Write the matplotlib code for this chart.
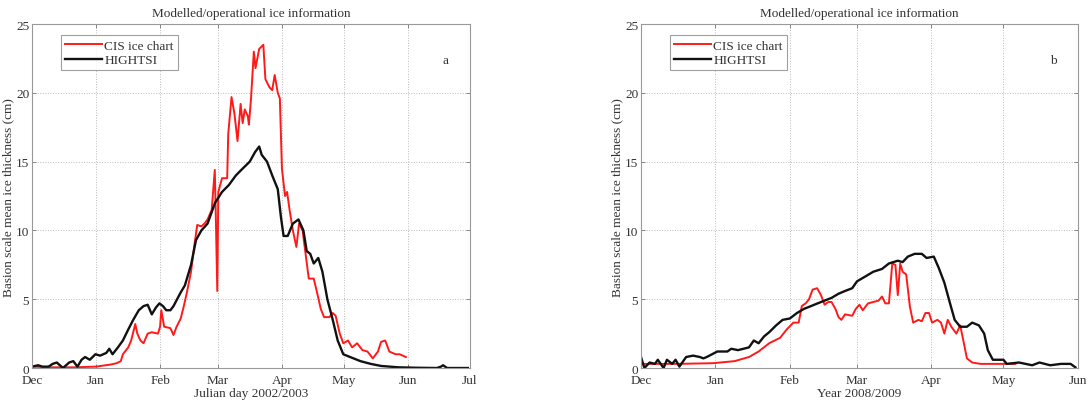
import matplotlib.pyplot as plt

plt.rcParams['font.family'] = ['Liberation Serif', 'DejaVu Serif']

# days counted from 1 December
cis_a_day = [0, 10, 20, 31, 38, 41, 43, 44, 46.6, 48, 50, 51, 52.5, 54, 56, 58, 61, 62, 62.6, 64,
             67, 68.5, 70, 72, 73.5, 75, 77, 78.5, 80, 82, 83.5, 85, 87, 88.5, 89, 89.7, 90.2, 92,
             94.5, 95, 96.6, 98, 99.5, 101, 102, 103, 104.5, 105, 106, 107.4, 108.2, 110, 112, 113,
             115, 116.3, 117.5, 119, 120, 121, 122.5, 123.5, 124.7, 126.3, 128, 129.3, 131, 132.2,
             134, 136.4, 138, 139.8, 141.4, 144, 145.6, 147, 149, 150.7, 153, 155, 157.4, 160, 162.4,
             165, 167.5, 169, 171, 173, 176, 178, 181]
cis_a_val = [0.1, 0.05, 0.05, 0.1, 0.25, 0.35, 0.5, 1.0, 1.5, 2.0, 3.2, 2.5, 2.0, 1.8, 2.5, 2.6, 2.5,
             3.0, 4.2, 3.0, 2.9, 2.4, 3.0, 3.6, 4.5, 5.5, 7.0, 8.8, 10.4, 10.3, 10.5, 10.8, 11.5, 14.4,
             11.0, 5.6, 12.8, 13.8, 13.8, 17.0, 19.7, 18.5, 16.5, 19.2, 17.8, 18.8, 18.3, 17.7, 19.5,
             23.0, 21.8, 23.2, 23.5, 21.0, 20.4, 20.2, 21.3, 20.0, 19.6, 14.5, 12.5, 12.8, 11.5, 10.0,
             8.8, 10.5, 10.0, 8.6, 6.5, 6.5, 5.5, 4.3, 3.7, 3.7, 4.0, 3.8, 2.5, 1.8, 2.0, 1.5, 1.8,
             1.3, 1.2, 0.7, 1.2, 1.9, 2.0, 1.2, 1.0, 1.0, 0.8]

hig_a_day = [0, 3, 5, 8, 10, 12, 15, 18, 20, 22, 24, 25.7, 28, 30.7, 33, 36, 37.4, 39, 41.6, 44,
             46.6, 49, 51.7, 54, 56, 58, 60, 61.7, 63.4, 65, 67, 68.5, 72, 74, 77, 79.4, 82, 85,
             88.6, 92, 95.3, 98.7, 102, 105.4, 108, 110, 111.2, 113.8, 116.3, 119, 120.5, 121.8,
             123.8, 126.3, 129, 131.4, 133, 134.7, 136.4, 138.6, 140.6, 143, 145.6, 148, 150.7, 154,
             159, 164, 169, 177.5, 186, 196, 198, 199, 201, 211]
hig_a_val = [0.1, 0.2, 0.1, 0.1, 0.3, 0.4, 0.0, 0.4, 0.5, 0.1, 0.6, 0.8, 0.6, 1.0, 0.9, 1.1, 1.4,
             1.0, 1.5, 2.0, 2.8, 3.5, 4.2, 4.5, 4.6, 3.9, 4.4, 4.7, 4.5, 4.2, 4.2, 4.5, 5.5, 6.0,
             7.5, 9.3, 10.0, 10.5, 12.0, 12.8, 13.3, 14.0, 14.5, 15.0, 15.7, 16.1, 15.5, 15.0, 14.0,
             13.0, 11.0, 9.6, 9.6, 10.5, 10.8, 10.0, 8.5, 8.3, 7.6, 8.0, 7.0, 5.0, 3.5, 2.0, 1.0,
             0.8, 0.5, 0.3, 0.15, 0.05, 0.02, 0.0, 0.1, 0.2, 0.0, 0.0]

cis_b_day = [0, 15, 30, 39, 45, 49, 53.4, 58, 60.7, 63.5, 65.7, 67, 68.6, 70, 71.5, 73.4, 75, 76.5,
             78, 79.4, 81, 82.3, 83.5, 85, 88, 89.5, 91, 92.4, 94.6, 96.8, 99, 100.4, 101.8, 103.3,
             104.7, 106, 107, 108, 109, 110.5, 112, 113.4, 115.6, 117, 118.5, 120, 121.3, 123.5, 125,
             126.4, 127.8, 129.3, 131.4, 133, 134.3, 135.8, 138, 141.5, 151.7, 156]
cis_b_val = [0.3, 0.3, 0.35, 0.5, 0.8, 1.2, 1.8, 2.2, 2.8, 3.3, 3.3, 4.5, 4.7, 5.0, 5.7, 5.8, 5.3,
             4.6, 4.8, 4.8, 4.3, 3.7, 3.5, 3.9, 3.8, 4.3, 4.6, 4.2, 4.7, 4.8, 4.9, 5.2, 4.7, 4.7,
             7.6, 7.5, 5.3, 7.6, 7.0, 6.8, 4.5, 3.3, 3.5, 3.4, 4.0, 4.0, 3.3, 3.5, 3.3, 2.5, 3.5,
             3.0, 2.5, 3.1, 2.0, 0.7, 0.4, 0.3, 0.3, 0.3]

hig_b_day = [0, 1.4, 3.6, 5.8, 7, 9.4, 10.8, 13, 14.4, 16, 18.8, 21.7, 24.5, 26, 27.4, 29.6, 31.8,
             36, 37.6, 40.4, 45, 47, 49, 51.3, 53.4, 56.3, 59, 62, 65, 67.9, 70.8, 73.6, 76.5, 79.4,
             82.3, 85, 88, 90, 93.9, 96.8, 100.4, 103.3, 107, 109, 111.2, 114, 117, 119, 122, 124,
             126.4, 128.6, 130.7, 133, 135.8, 138, 140.8, 143, 144.5, 146.6, 148.8, 151, 152.4,
             157.5, 163, 166, 170.5, 175, 179, 181]
hig_b_val = [0.8, 0.0, 0.4, 0.3, 0.6, 0.0, 0.6, 0.3, 0.6, 0.1, 0.8, 0.9, 0.8, 0.7, 0.8, 1.0, 1.2,
             1.2, 1.4, 1.3, 1.5, 2.0, 1.8, 2.3, 2.6, 3.1, 3.5, 3.6, 4.0, 4.3, 4.5, 4.7, 4.9, 5.1,
             5.4, 5.6, 5.8, 6.3, 6.7, 7.0, 7.2, 7.6, 7.8, 7.7, 8.1, 8.3, 8.3, 8.0, 8.1, 7.3, 6.2,
             4.8, 3.5, 3.0, 3.0, 3.3, 3.1, 2.5, 1.3, 0.6, 0.6, 0.6, 0.3, 0.4, 0.2, 0.4, 0.2, 0.3,
             0.3, 0.05]

ticks_a = [0, 31, 62, 90, 121, 151, 182, 212]
labels_a = ['Dec', 'Jan', 'Feb', 'Mar', 'Apr', 'May', 'Jun', 'Jul']
ticks_b = [0, 31, 62, 90, 121, 151, 182]
labels_b = ['Dec', 'Jan', 'Feb', 'Mar', 'Apr', 'May', 'Jun']

TITLE = 'Modelled/operational ice information'
YLABEL = 'Basion scale mean ice thickness (cm)'
FS = 9.5
TXT = '#333333'


def panel(ax, cis_d, cis_v, hig_d, hig_v, ticks, labels, xlabel, letter):
    ax.plot(cis_d, cis_v, color='#ff1a1a', lw=1.4, label='CIS ice chart')
    ax.plot(hig_d, hig_v, color='#111111', lw=1.7, label='HIGHTSI')
    ax.set_xlim(ticks[0], ticks[-1])
    ax.set_ylim(0, 25)
    ax.set_xticks(ticks)
    ax.set_xticklabels(labels)
    ax.set_yticks(range(0, 26, 5))
    ax.grid(True, ls=':', color='#bbbbbb', lw=0.7)
    ax.tick_params(direction='in', top=True, right=True, length=3, width=0.6,
                   color='#777777', labelsize=FS, labelcolor=TXT)
    ax.tick_params(axis='x', pad=4)
    ax.tick_params(axis='y', pad=2)
    for s in ax.spines.values():
        s.set_color('#999999')
        s.set_linewidth(0.8)
    ax.set_title(TITLE, fontsize=FS, color=TXT, pad=6)
    ax.set_xlabel(xlabel, fontsize=FS, color=TXT, labelpad=1)
    ax.set_ylabel(YLABEL, fontsize=FS, color=TXT, labelpad=1)
    leg = ax.legend(loc='upper left', bbox_to_anchor=(0.06, 0.975), fontsize=FS,
                    fancybox=False, handlelength=2.8, borderpad=0.3, labelspacing=0.2,
                    handletextpad=0.2, borderaxespad=0.2)
    leg.get_frame().set_edgecolor('#888888')
    leg.get_frame().set_linewidth(0.8)
    for t in leg.get_texts():
        t.set_color(TXT)
    ax.text(0.945, 0.895, letter, transform=ax.transAxes, fontsize=FS, color=TXT,
            ha='center', va='center')


fig = plt.figure(figsize=(10.92, 4.06), dpi=100)
ax1 = fig.add_axes([0.0293, 0.0911, 0.401, 0.847])
ax2 = fig.add_axes([0.587, 0.0911, 0.400, 0.847])

panel(ax1, cis_a_day, cis_a_val, hig_a_day, hig_a_val, ticks_a, labels_a,
      'Julian day 2002/2003', 'a')
panel(ax2, cis_b_day, cis_b_val, hig_b_day, hig_b_val, ticks_b, labels_b,
      'Year 2008/2009', 'b')

fig.savefig('out.png', dpi=100)
